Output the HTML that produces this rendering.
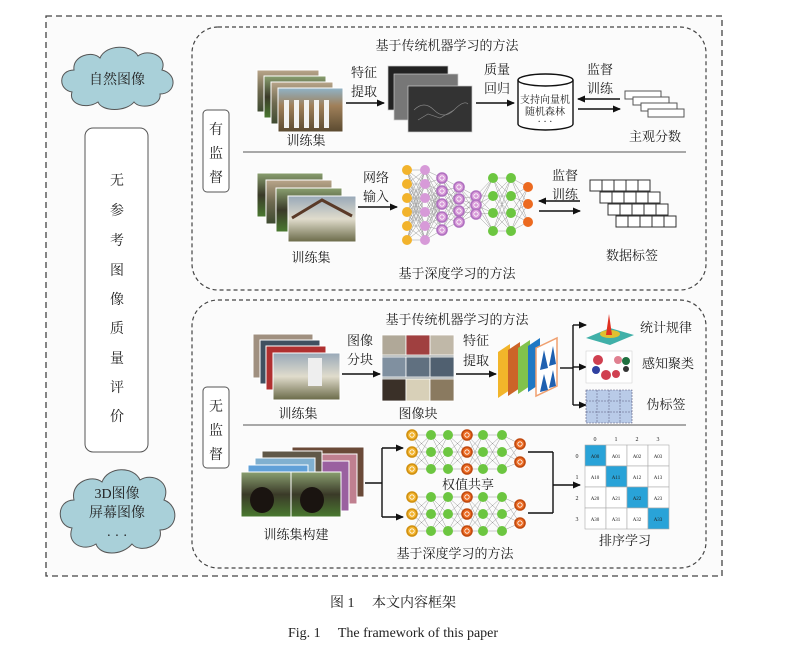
<!DOCTYPE html>
<html><head><meta charset="utf-8"><style>
html,body{margin:0;padding:0;background:#fff;}
svg{display:block;}
text{font-family:"Liberation Serif","Noto Serif CJK SC",serif;fill:#222;}
</style></head><body>
<svg id="s" width="786" height="656" viewBox="0 0 786 656" xmlns="http://www.w3.org/2000/svg">
<defs>
<marker id="ar" markerWidth="8" markerHeight="8" refX="7" refY="4" orient="auto" markerUnits="userSpaceOnUse"><path d="M0,0.5 L8,4 L0,7.5 z" fill="#111"/></marker>
<linearGradient id="g1" x1="0" y1="0" x2="0" y2="1"><stop offset="0" stop-color="#8fb3c8"/><stop offset="0.4" stop-color="#a0805a"/><stop offset="1" stop-color="#5a4a30"/></linearGradient>
<linearGradient id="g2" x1="0" y1="0" x2="0" y2="1"><stop offset="0" stop-color="#b9a58a"/><stop offset="0.5" stop-color="#6e6a50"/><stop offset="1" stop-color="#3d4a30"/></linearGradient>
<linearGradient id="g3" x1="0" y1="0" x2="0" y2="1"><stop offset="0" stop-color="#98a8b8"/><stop offset="0.5" stop-color="#e0dccc"/><stop offset="1" stop-color="#6a6a48"/></linearGradient>
<linearGradient id="g4" x1="0" y1="0" x2="0" y2="1"><stop offset="0" stop-color="#8aa070"/><stop offset="0.5" stop-color="#3a3a28"/><stop offset="1" stop-color="#4a7a30"/></linearGradient>
<radialGradient id="peak" cx="0.5" cy="0.6" r="0.5"><stop offset="0" stop-color="#e03020"/><stop offset="0.3" stop-color="#e8c020"/><stop offset="1" stop-color="#30a8a0"/></radialGradient>
</defs>
<rect x="0" y="0" width="786" height="656" fill="#fff"/>
<rect x="46" y="16" width="676" height="560" fill="#fbfbfb" stroke="#444" stroke-width="1.3" stroke-dasharray="6,4"/>
<!-- clouds -->
<g fill="#a9d0d9" stroke="#555" stroke-width="1">
<path d="M72,92 C58,90 58,70 74,70 C72,56 92,50 100,58 C106,44 132,44 138,56 C148,48 168,56 162,70 C178,74 176,94 160,94 C162,106 140,110 134,102 C126,112 102,112 98,102 C86,110 68,104 72,92 z"/>
<path d="M72,528 C56,526 56,500 74,500 C70,482 92,474 102,482 C108,466 134,466 140,480 C152,472 172,482 164,500 C180,506 178,530 160,530 C164,546 140,554 132,544 C122,556 100,556 96,544 C84,552 66,544 72,528 z"/>
</g>
<text x="117" y="84" font-size="14" text-anchor="middle">自然图像</text>
<text x="117" y="498" font-size="14" text-anchor="middle">3D图像</text>
<text x="117" y="517" font-size="14" text-anchor="middle">屏幕图像</text>
<text x="117" y="540" font-size="14" text-anchor="middle">· · ·</text>
<rect x="85" y="128" width="63" height="324" rx="8" fill="#fff" stroke="#555"/>
<g font-size="14" text-anchor="middle">
<text x="117" y="185">无</text><text x="117" y="215">参</text><text x="117" y="245">考</text><text x="117" y="275">图</text><text x="117" y="304">像</text><text x="117" y="333">质</text><text x="117" y="363">量</text><text x="117" y="392">评</text><text x="117" y="421">价</text>
</g>
<!-- section boxes -->
<rect x="192" y="27" width="514" height="263" rx="26" fill="none" stroke="#444" stroke-width="1.2" stroke-dasharray="4,3"/>
<rect x="192" y="300" width="514" height="268" rx="26" fill="none" stroke="#444" stroke-width="1.2" stroke-dasharray="4,3"/>
<rect x="203" y="110" width="26" height="82" rx="4" fill="#fff" stroke="#555"/>
<g font-size="14" text-anchor="middle"><text x="216" y="134">有</text><text x="216" y="158">监</text><text x="216" y="182">督</text></g>
<rect x="203" y="387" width="26" height="81" rx="4" fill="#fff" stroke="#555"/>
<g font-size="14" text-anchor="middle"><text x="216" y="411">无</text><text x="216" y="435">监</text><text x="216" y="459">督</text></g>
<line x1="243" y1="152" x2="686" y2="152" stroke="#777" stroke-width="1.2"/>
<line x1="243" y1="425" x2="686" y2="425" stroke="#777" stroke-width="1.2"/>
<g font-size="13" text-anchor="middle">
<text x="447" y="50">基于传统机器学习的方法</text>
<text x="457" y="278">基于深度学习的方法</text>
<text x="457" y="324">基于传统机器学习的方法</text>
<text x="455" y="558">基于深度学习的方法</text>
</g>
<!-- upper row1 images -->
<g stroke="#fff" stroke-width="1">
<rect x="257" y="70" width="62" height="42" fill="url(#g2)"/>
<rect x="264" y="76" width="62" height="42" fill="url(#g4)"/>
<rect x="271" y="82" width="62" height="42" fill="url(#g2)"/>
<rect x="278" y="88" width="65" height="44" fill="url(#g1)"/>
</g>
<g fill="#f2f2f0"><rect x="284" y="100" width="5" height="28"/><rect x="294" y="100" width="5" height="28"/><rect x="304" y="100" width="5" height="28"/><rect x="314" y="100" width="5" height="28"/><rect x="324" y="100" width="5" height="28"/></g>
<text x="306" y="145" font-size="13" text-anchor="middle">训练集</text>
<g stroke="#ccc" stroke-width="0.7">
<rect x="388" y="66" width="60" height="44" fill="#222"/>
<rect x="394" y="74" width="64" height="46" fill="#777"/>
<rect x="408" y="86" width="64" height="46" fill="#333"/>
</g>
<g stroke="#888" stroke-width="0.6" fill="none"><path d="M414,110 q10,-10 20,0 t20,0 t14,-6"/><path d="M418,120 l10,-6 l12,4 l14,-8"/></g>
<g stroke="#111" stroke-width="1.4" fill="none">
<line x1="346" y1="103" x2="384" y2="103" marker-end="url(#ar)"/>
<line x1="476" y1="103" x2="514" y2="103" marker-end="url(#ar)"/>
<line x1="620" y1="99" x2="578" y2="99" marker-end="url(#ar)"/>
<line x1="578" y1="109" x2="620" y2="109" marker-end="url(#ar)"/>
<line x1="358" y1="207" x2="397" y2="207" marker-end="url(#ar)"/>
<line x1="580" y1="201" x2="539" y2="201" marker-end="url(#ar)"/>
<line x1="539" y1="211" x2="580" y2="211" marker-end="url(#ar)"/>
</g>
<g font-size="13" text-anchor="middle">
<text x="364" y="77">特征</text><text x="364" y="96">提取</text>
<text x="497" y="74">质量</text><text x="497" y="93">回归</text>
<text x="600" y="74">监督</text><text x="600" y="93">训练</text>
<text x="376" y="182">网络</text><text x="376" y="201">输入</text>
<text x="565" y="180">监督</text><text x="565" y="199">训练</text>
<text x="655" y="141">主观分数</text>
<text x="311" y="262">训练集</text>
<text x="632" y="260">数据标签</text>
</g>
<!-- cylinder -->
<path d="M518,80 L518,124 A27.5,6 0 0 0 573,124 L573,80" fill="#fff" stroke="#111" stroke-width="1.4"/>
<ellipse cx="545.5" cy="80" rx="27.5" ry="6" fill="#fff" stroke="#111" stroke-width="1.4"/>
<g font-size="10" text-anchor="middle"><text x="545" y="103">支持向量机</text><text x="545" y="115">随机森林</text><text x="545" y="125">· · ·</text></g>
<!-- score stack -->
<g fill="#fff" stroke="#555" stroke-width="1">
<rect x="625" y="91" width="36" height="8"/><rect x="633" y="97" width="36" height="8"/><rect x="641" y="103" width="36" height="8"/><rect x="648" y="109" width="36" height="8"/>
</g>
<!-- row2 images -->
<g stroke="#fff" stroke-width="1">
<rect x="257" y="173" width="66" height="44" fill="url(#g4)"/>
<rect x="266" y="180" width="66" height="44" fill="url(#g2)"/>
<rect x="276" y="188" width="66" height="44" fill="url(#g4)"/>
<rect x="288" y="196" width="68" height="46" fill="url(#g3)"/>
</g>
<path d="M292,218 L322,200 L352,216" stroke="#5a3a28" stroke-width="3" fill="none"/>
<!-- label grid -->
<g id="lg" fill="#fff" stroke="#333" stroke-width="1"></g>
<!-- lower row1 -->
<g stroke="#fff" stroke-width="1">
<rect x="253" y="334" width="60" height="44" fill="#a09080"/>
<rect x="260" y="340" width="60" height="44" fill="#405060"/>
<rect x="266" y="346" width="60" height="44" fill="#b03030"/>
<rect x="273" y="353" width="67" height="47" fill="url(#g3)"/>
</g>
<rect x="308" y="358" width="14" height="28" fill="#eee"/>
<g stroke="#fff" stroke-width="0.8">
<rect x="382" y="335" width="72" height="66" fill="#9aa0a0"/>
<rect x="382" y="335" width="24" height="20" fill="#b0a898"/><rect x="406" y="335" width="24" height="20" fill="#a04040"/><rect x="430" y="335" width="24" height="20" fill="#c0b8a8"/>
<rect x="382" y="357" width="24" height="20" fill="#8090a0"/><rect x="406" y="357" width="24" height="20" fill="#607080"/><rect x="430" y="357" width="24" height="20" fill="#506070"/>
<rect x="382" y="379" width="24" height="22" fill="#3a3028"/><rect x="406" y="379" width="24" height="22" fill="#d8d0b8"/><rect x="430" y="379" width="24" height="22" fill="#8a7a60"/>
</g>
<g stroke="#111" stroke-width="1.4" fill="none">
<line x1="342" y1="374" x2="380" y2="374" marker-end="url(#ar)"/>
<line x1="456" y1="374" x2="496" y2="374" marker-end="url(#ar)"/>
<line x1="560" y1="368" x2="573" y2="368"/>
<line x1="573" y1="325" x2="573" y2="405"/>
<line x1="573" y1="325" x2="586" y2="325" marker-end="url(#ar)"/>
<line x1="573" y1="367" x2="586" y2="367" marker-end="url(#ar)"/>
<line x1="573" y1="405" x2="586" y2="405" marker-end="url(#ar)"/>
<line x1="365" y1="483" x2="382" y2="483"/>
<line x1="382" y1="448" x2="382" y2="517"/>
<line x1="382" y1="448" x2="403" y2="448" marker-end="url(#ar)"/>
<line x1="382" y1="517" x2="403" y2="517" marker-end="url(#ar)"/>
<line x1="528" y1="452" x2="553" y2="452"/>
<line x1="528" y1="513" x2="553" y2="513"/>
<line x1="553" y1="452" x2="553" y2="513"/>
<line x1="553" y1="485" x2="580" y2="485" marker-end="url(#ar)"/>
</g>
<g font-size="13" text-anchor="middle">
<text x="360" y="345">图像</text><text x="360" y="364">分块</text>
<text x="476" y="345">特征</text><text x="476" y="365">提取</text>
<text x="298" y="418">训练集</text>
<text x="418" y="418">图像块</text>
<text x="666" y="332">统计规律</text>
<text x="668" y="368">感知聚类</text>
<text x="666" y="409">伪标签</text>
<text x="468" y="489">权值共享</text>
<text x="296" y="539">训练集构建</text>
<text x="625" y="545">排序学习</text>
</g>
<!-- feature layers -->
<g>
<path d="M498,352 L510,344 L510,390 L498,398 z" fill="#f2b52a"/>
<path d="M508,350 L520,342 L520,388 L508,396 z" fill="#cc6428"/>
<path d="M518,348 L530,340 L530,386 L518,394 z" fill="#82c24c"/>
<path d="M528,346 L540,338 L540,384 L528,392 z" fill="#1f78c4"/>
<path d="M536,348 L557,338 L557,386 L536,396 z" fill="#fff" stroke="#f0a070" stroke-width="1.5"/>
<path d="M540,370 L544,350 L548,368 z M549,366 L553,346 L556,364 z M540,392 L544,374 L548,390 z M549,388 L553,370 L556,386 z" fill="#1f60b0"/>
</g>
<!-- plots -->
<path d="M586,338 L610,345 L634,335 L610,328 z" fill="#40b0a8"/>
<ellipse cx="610" cy="334" rx="10" ry="4" fill="#e0c030"/>
<path d="M606,335 L609,314 L612,335 z" fill="#e03020"/>
<rect x="586" y="351" width="46" height="32" fill="#fff" stroke="#ccc" stroke-width="0.5"/>
<g fill="#d04050"><circle cx="598" cy="360" r="5"/><circle cx="606" cy="375" r="5"/><circle cx="616" cy="374" r="4"/></g>
<circle cx="618" cy="360" r="4" fill="#e08090"/><circle cx="626" cy="361" r="4" fill="#207040"/><circle cx="626" cy="369" r="3" fill="#333"/><circle cx="596" cy="370" r="4" fill="#3040a0"/>
<rect x="586" y="390" width="46" height="33" fill="#b9cbe8" stroke="#557" stroke-width="0.6" stroke-dasharray="2,1"/>
<g stroke="#557" stroke-width="0.5" stroke-dasharray="2,1"><line x1="597" y1="390" x2="597" y2="423"/><line x1="609" y1="390" x2="609" y2="423"/><line x1="620" y1="390" x2="620" y2="423"/><line x1="586" y1="401" x2="632" y2="401"/><line x1="586" y1="412" x2="632" y2="412"/></g>
<!-- lower training stack -->
<g stroke="#fff" stroke-width="1">
<rect x="292" y="447" width="72" height="50" fill="#6a4a38"/>
<rect x="285" y="454" width="72" height="50" fill="#c08090"/>
<rect x="277" y="461" width="72" height="50" fill="#9a60a0"/>
<rect x="262" y="451" width="60" height="40" fill="#605848"/>
<rect x="255" y="458" width="60" height="40" fill="#80b0d0"/>
<rect x="248" y="465" width="60" height="40" fill="#60a0d8"/>
<rect x="241" y="472" width="50" height="45" fill="url(#g4)"/>
<rect x="291" y="472" width="50" height="45" fill="url(#g4)"/>
</g>
<g fill="#1a1410"><ellipse cx="262" cy="500" rx="12" ry="13"/><ellipse cx="312" cy="500" rx="12" ry="13"/></g>
<!-- matrix -->
<g font-size="6" text-anchor="middle" fill="#333"><text x="595" y="441">0</text><text x="616" y="441">1</text><text x="637" y="441">2</text><text x="658" y="441">3</text></g>
<g font-size="6" text-anchor="middle"><text x="577" y="458" fill="#e33">0</text><text x="577" y="479" fill="#e33">1</text><text x="577" y="500" fill="#e33">2</text><text x="577" y="521" fill="#e33">3</text></g>
<g id="mx"></g>
<g id="nn"></g>
</svg>
<script>
var NS="http://www.w3.org/2000/svg";
function el(p,t,a){var e=document.createElementNS(NS,t);for(var k in a)e.setAttribute(k,a[k]);p.appendChild(e);return e;}
var lg=document.getElementById('lg');
[[590,180],[600,192],[608,204],[616,216]].forEach(function(o){for(var i=0;i<5;i++)el(lg,'rect',{x:o[0]+i*12,y:o[1],width:12,height:11});});
var mx=document.getElementById('mx');
for(var r=0;r<4;r++)for(var c=0;c<4;c++){el(mx,'rect',{x:585+c*21,y:445+r*21,width:21,height:21,fill:r==c?'#29a3d8':'#fff',stroke:'#aaa','stroke-width':0.6});var t=el(mx,'text',{x:595+c*21,y:458+r*21,'font-size':5,'text-anchor':'middle',fill:'#555'});t.textContent='A'+r+c;}
var nn=document.getElementById('nn');
function net(cols){for(var i=0;i<cols.length-1;i++){cols[i].ys.forEach(function(a){cols[i+1].ys.forEach(function(b){el(nn,'line',{x1:cols[i].x,y1:a,x2:cols[i+1].x,y2:b,stroke:'#999','stroke-width':0.5});});});}
cols.forEach(function(c){c.ys.forEach(function(y){el(nn,'circle',{cx:c.x,cy:y,r:c.r||5,fill:c.f,stroke:c.ring?c.ring:'none','stroke-width':c.ring?1.6:0});if(c.ring)el(nn,'circle',{cx:c.x,cy:y,r:2.2,fill:'none',stroke:'#fff','stroke-width':0.8});});});}
var Y='#f2b32c',P='#d79ad8',G='#6cc640',O='#ec6a20';
net([{x:407,ys:[170,184,198,212,226,240],f:Y},{x:425,ys:[170,184,198,212,226,240],f:P},{x:442,ys:[178,191,204,217,230],f:P,ring:'#b070c0'},{x:459,ys:[187,199,211,222],f:P,ring:'#b070c0'},{x:476,ys:[196,205,214],f:P,ring:'#b070c0'},{x:493,ys:[178,196,213,231],f:G},{x:511,ys:[178,196,213,231],f:G},{x:528,ys:[187,204,222],f:O}]);
function low(y0,l){return [{x:412,ys:[y0,y0+17,y0+34],f:Y,ring:'#d09010'},{x:431,ys:[y0,y0+17,y0+34],f:G},{x:448,ys:[y0,y0+17,y0+34],f:G},{x:467,ys:[y0,y0+17,y0+34],f:O,ring:'#c04a10'},{x:483,ys:[y0,y0+17,y0+34],f:G},{x:502,ys:[y0,y0+17,y0+34],f:G},{x:520,ys:[l,l+18],f:O,ring:'#c04a10'}];}
net(low(435,444));net(low(497,505));
</script>
<svg width="0" height="0"></svg>
<div style="position:absolute;left:0;top:592px;width:786px;text-align:center;font-family:'Liberation Serif','Noto Serif CJK SC',serif;font-size:14px;color:#222;">图 1　 本文内容框架</div>
<div style="position:absolute;left:0;top:622px;width:786px;text-align:center;font-family:'Liberation Serif',serif;font-size:14px;color:#222;">Fig. 1　 The framework of this paper</div>
</body></html>
